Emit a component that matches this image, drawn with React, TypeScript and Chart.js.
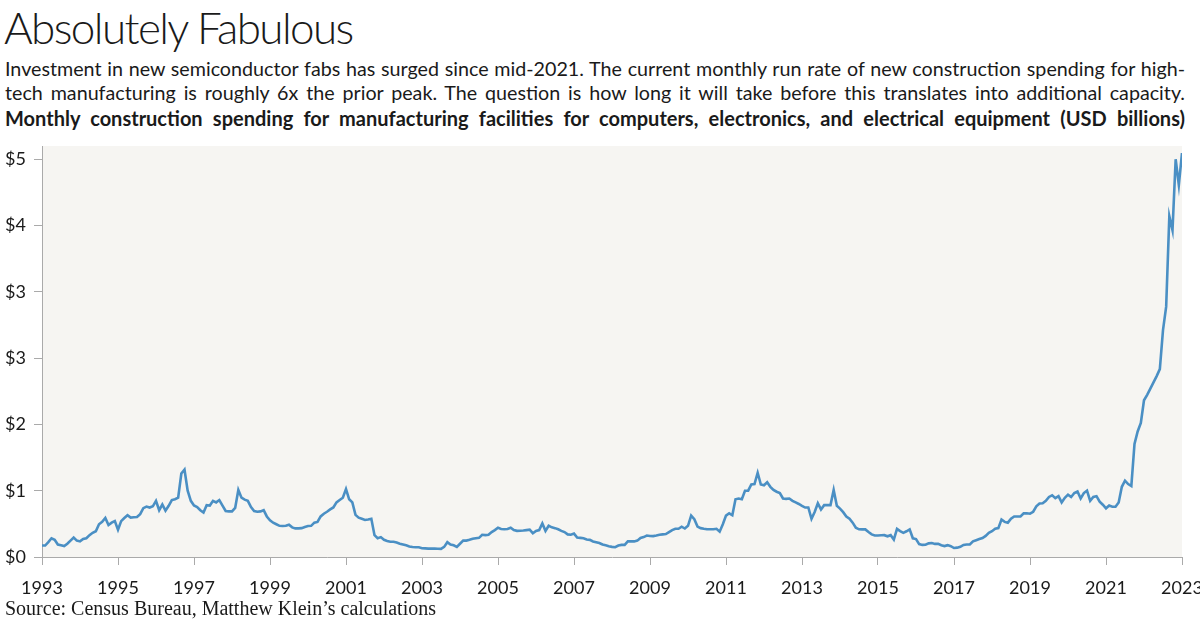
import React, { useEffect, useRef } from 'react';
import { Chart, registerables } from 'chart.js';

Chart.register(...registerables);

// ---- Data (USD billions, monthly, Jan 1993 .. Jan 2023) ----
const startYear = 1993;
const yearTicks = [1993, 1995, 1997, 1999, 2001, 2003, 2005, 2007, 2009, 2011, 2013, 2015, 2017, 2019, 2021, 2023];
const yTickValues = [0, 0.85, 1.7, 2.55, 3.4, 4.25, 5.1];

const spending1993to1997 = [
  0.147, 0.147, 0.19, 0.24, 0.22, 0.16, 0.15, 0.14, 0.17, 0.21, 0.25, 0.21,
  0.2, 0.23, 0.24, 0.28, 0.31, 0.33, 0.42, 0.45, 0.5, 0.41, 0.44, 0.46,
  0.35, 0.46, 0.5, 0.535, 0.505, 0.51, 0.513, 0.55, 0.626, 0.647, 0.634, 0.65,
  0.72, 0.6, 0.673, 0.595, 0.656, 0.73, 0.74, 0.76, 1.07, 1.12, 0.85, 0.72,
  0.66, 0.64, 0.6, 0.57, 0.665, 0.66, 0.72, 0.7, 0.73, 0.66, 0.59, 0.585,
];
const spending1998to2002 = [
  0.585, 0.63, 0.86, 0.76, 0.735, 0.72, 0.64, 0.59, 0.58, 0.585, 0.6, 0.52,
  0.47, 0.44, 0.42, 0.4, 0.397, 0.4, 0.414, 0.38, 0.367, 0.367, 0.37, 0.385,
  0.397, 0.4, 0.44, 0.45, 0.52, 0.555, 0.58, 0.61, 0.635, 0.7, 0.73, 0.76,
  0.87, 0.74, 0.7, 0.54, 0.505, 0.49, 0.475, 0.48, 0.49, 0.28, 0.24, 0.255,
  0.22, 0.205, 0.195, 0.195, 0.185, 0.17, 0.16, 0.15, 0.135, 0.128, 0.125, 0.125,
];
const spending2003to2007 = [
  0.112, 0.11, 0.108, 0.108, 0.108, 0.105, 0.104, 0.13, 0.19, 0.16, 0.15, 0.13,
  0.17, 0.21, 0.21, 0.22, 0.233, 0.24, 0.246, 0.285, 0.28, 0.285, 0.32, 0.345,
  0.375, 0.36, 0.355, 0.36, 0.375, 0.345, 0.335, 0.337, 0.34, 0.345, 0.35, 0.305,
  0.335, 0.345, 0.43, 0.335, 0.4, 0.38, 0.37, 0.355, 0.335, 0.32, 0.29, 0.285,
  0.3, 0.25, 0.245, 0.24, 0.225, 0.22, 0.2, 0.19, 0.18, 0.16, 0.15, 0.138,
];
const spending2008to2012 = [
  0.13, 0.125, 0.147, 0.155, 0.155, 0.2, 0.2, 0.2, 0.21, 0.245, 0.255, 0.275,
  0.27, 0.268, 0.275, 0.285, 0.29, 0.295, 0.32, 0.345, 0.362, 0.362, 0.388, 0.365,
  0.4, 0.53, 0.485, 0.39, 0.37, 0.362, 0.355, 0.355, 0.355, 0.362, 0.325, 0.42,
  0.53, 0.56, 0.535, 0.74, 0.75, 0.74, 0.85, 0.85, 0.93, 0.935, 1.08, 0.93,
  0.92, 0.958, 0.9, 0.86, 0.837, 0.82, 0.75, 0.745, 0.75, 0.72, 0.7, 0.68,
];
const spending2013to2017 = [
  0.656, 0.634, 0.635, 0.49, 0.578, 0.69, 0.61, 0.665, 0.665, 0.665, 0.86, 0.656,
  0.62, 0.575, 0.52, 0.49, 0.44, 0.375, 0.355, 0.354, 0.354, 0.32, 0.29, 0.276,
  0.276, 0.278, 0.28, 0.265, 0.28, 0.224, 0.36, 0.332, 0.31, 0.33, 0.354, 0.24,
  0.23, 0.165, 0.155, 0.158, 0.175, 0.18, 0.168, 0.168, 0.15, 0.14, 0.152, 0.138,
  0.115, 0.12, 0.13, 0.155, 0.16, 0.16, 0.2, 0.215, 0.23, 0.243, 0.27, 0.31,
];
const spending2018to2023 = [
  0.33, 0.362, 0.37, 0.48, 0.45, 0.44, 0.49, 0.52, 0.52, 0.52, 0.56, 0.56,
  0.555, 0.58, 0.65, 0.685, 0.69, 0.72, 0.77, 0.79, 0.755, 0.78, 0.7, 0.76,
  0.8, 0.77, 0.82, 0.84, 0.75, 0.82, 0.85, 0.72, 0.77, 0.78, 0.71, 0.67,
  0.624, 0.66, 0.645, 0.645, 0.7, 0.9, 0.978, 0.935, 0.91, 1.45, 1.61, 1.72,
  2.01, 2.08, 2.16, 2.24, 2.32, 2.41, 2.91, 3.21, 4.37, 4.19, 5.1, 4.77,
  5.18,
];

const monthlySpending = [
  ...spending1993to1997,
  ...spending1998to2002,
  ...spending2003to2007,
  ...spending2008to2012,
  ...spending2013to2017,
  ...spending2018to2023,
];

const TEXT = '#1a1a1a';
const AXIS = '#aaaaaa';
const SANS = 'Lato, "Noto Sans", sans-serif';

const plotBackground = {
  id: 'plotBackground',
  beforeDraw(chart: any) {
    const { ctx, chartArea } = chart;
    if (!chartArea) return;
    ctx.save();
    ctx.fillStyle = '#f6f5f2';
    ctx.fillRect(chartArea.left, chartArea.top, chartArea.right - chartArea.left, chartArea.bottom - chartArea.top);
    ctx.restore();
  },
};

function SpendingChart() {
  const ref = useRef<HTMLCanvasElement | null>(null);
  useEffect(() => {
    if (!ref.current) return;
    const points = monthlySpending.map((v, i) => ({ x: startYear + i / 12, y: v }));
    const chart = new Chart(ref.current, {
      type: 'line',
      data: {
        datasets: [
          {
            data: points,
            borderColor: '#4a8fc4',
            borderWidth: 2.6,
            pointRadius: 0,
            tension: 0,
            fill: false,
          },
        ],
      },
      options: {
        animation: false,
        responsive: false,
        layout: { padding: { top: 20, right: 58, bottom: 0, left: 0 } },
        plugins: { legend: { display: false }, tooltip: { enabled: false }, title: { display: false } },
        scales: {
          x: {
            type: 'linear',
            min: yearTicks[0],
            max: yearTicks[yearTicks.length - 1],
            afterBuildTicks: (scale: any) => {
              scale.ticks = yearTicks.map((v) => ({ value: v }));
            },
            afterFit: (scale: any) => {
              scale.height = 45;
            },
            ticks: {
              autoSkip: false,
              maxRotation: 0,
              padding: 12,
              color: TEXT,
              font: { family: SANS, size: 18 },
              callback: (v: any) => String(v),
            },
            grid: { drawOnChartArea: false, drawTicks: true, tickLength: 8, color: AXIS, lineWidth: 1 },
            border: { display: true, color: AXIS, width: 1 },
          },
          y: {
            type: 'linear',
            min: 0,
            max: 5.27,
            afterBuildTicks: (scale: any) => {
              scale.ticks = yTickValues.map((v) => ({ value: v }));
            },
            afterFit: (scale: any) => {
              scale.width = 42;
            },
            ticks: {
              padding: 8,
              color: TEXT,
              font: { family: SANS, size: 18 },
              callback: (v: any) => '$' + Math.round(Number(v)),
            },
            grid: { drawOnChartArea: false, drawTicks: true, tickLength: 8, color: AXIS, lineWidth: 1 },
            border: { display: true, color: AXIS, width: 1 },
          },
        },
      },
      plugins: [plotBackground],
    });
    return () => chart.destroy();
  }, []);
  return <canvas ref={ref} width={1240} height={476} style={{ width: 1240, height: 476, display: 'block' }} />;
}

export default function App() {
  const lineStyle: React.CSSProperties = {
    position: 'absolute',
    left: 5,
    width: 1180,
    textAlign: 'justify',
    textAlignLast: 'justify' as any,
    whiteSpace: 'nowrap',
    color: TEXT,
    fontFamily: SANS,
  };
  return (
    <div style={{ position: 'fixed', left: 0, top: 0, width: 1200, height: 624, overflow: 'hidden', background: '#fff' }}>
      <div
        style={{
          position: 'absolute',
          left: 4,
          top: 4,
          fontFamily: SANS,
          fontWeight: 300,
          fontSize: 44,
          lineHeight: '46px',
          letterSpacing: -1.6,
          color: TEXT,
          whiteSpace: 'nowrap',
        }}
      >
        Absolutely Fabulous
      </div>
      <div style={{ ...lineStyle, top: 57, fontSize: 19.7, lineHeight: '24px', fontWeight: 400 }}>
        Investment in new semiconductor fabs has surged since mid-2021. The current monthly run rate of new construction spending for high-
      </div>
      <div style={{ ...lineStyle, top: 81, fontSize: 19.7, lineHeight: '24px', fontWeight: 400 }}>
        tech manufacturing is roughly 6x the prior peak. The question is how long it will take before this translates into additional capacity.
      </div>
      <div style={{ ...lineStyle, top: 106, fontSize: 20, lineHeight: '24px', fontWeight: 700 }}>
        Monthly construction spending for manufacturing facilities for computers, electronics, and electrical equipment (USD billions)
      </div>
      <div style={{ position: 'absolute', left: 0, top: 126 }}>
        <SpendingChart />
      </div>
      <div
        style={{
          position: 'absolute',
          left: 5,
          top: 596,
          fontFamily: '"Liberation Serif", "DejaVu Serif", serif',
          fontSize: 20,
          lineHeight: '24px',
          color: TEXT,
          whiteSpace: 'nowrap',
        }}
      >
        Source: Census Bureau, Matthew Klein’s calculations
      </div>
    </div>
  );
}
